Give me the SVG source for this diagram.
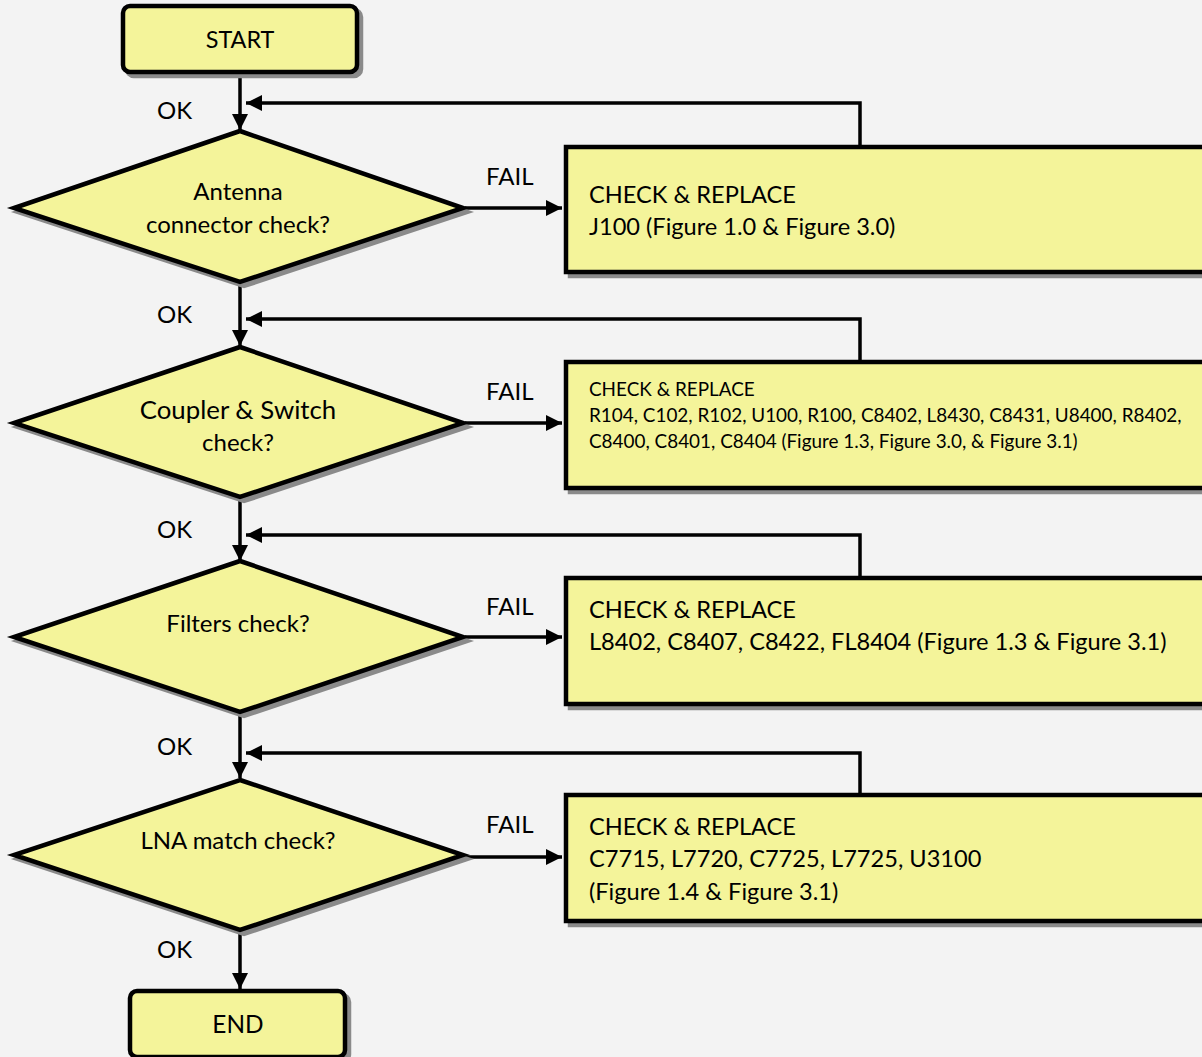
<svg xmlns="http://www.w3.org/2000/svg" width="1202" height="1057" viewBox="0 0 1202 1057">
<defs>
<style>
.bg{fill:#f3f3f3}
.node{fill:#f4f49a;stroke:#000;stroke-width:4.5;stroke-linejoin:miter}
.sh{fill:#8a8a8a;stroke:#8a8a8a;stroke-width:4.5}
.conn{fill:none;stroke:#000;stroke-width:3.5}
text{font-family:Lato,"Open Sans",sans-serif;fill:#000}
.t{font-size:24px}
.b{font-size:23.6px}
.c{text-anchor:middle}
.s{font-size:18.9px}
</style>
<marker id="ah" viewBox="0 0 10 10" refX="10" refY="5" markerWidth="16" markerHeight="16" markerUnits="userSpaceOnUse" orient="auto">
<path d="M0,0 L10,5 L0,10 z" fill="#000"/>
</marker>
</defs>
<rect class="bg" x="0" y="0" width="1202" height="1057"/>

<g id="connectors">
<line class="conn" x1="240" y1="72" x2="240" y2="130" marker-end="url(#ah)"/>
<line class="conn" x1="240" y1="284" x2="240" y2="346" marker-end="url(#ah)"/>
<line class="conn" x1="240" y1="499" x2="240" y2="561" marker-end="url(#ah)"/>
<line class="conn" x1="240" y1="714" x2="240" y2="778" marker-end="url(#ah)"/>
<line class="conn" x1="240" y1="932" x2="240" y2="989" marker-end="url(#ah)"/>
<line class="conn" x1="465" y1="208" x2="562" y2="208" marker-end="url(#ah)"/>
<line class="conn" x1="465" y1="423" x2="562" y2="423" marker-end="url(#ah)"/>
<line class="conn" x1="465" y1="637" x2="562" y2="637" marker-end="url(#ah)"/>
<line class="conn" x1="465" y1="857" x2="562" y2="857" marker-end="url(#ah)"/>
<polyline class="conn" points="860,147 860,103 246,103" marker-end="url(#ah)"/>
<polyline class="conn" points="860,362 860,319 246,319" marker-end="url(#ah)"/>
<polyline class="conn" points="860,578 860,535 246,535" marker-end="url(#ah)"/>
<polyline class="conn" points="860,795 860,753 246,753" marker-end="url(#ah)"/>
<text class="t" x="157" y="119">OK</text>
<text class="t" x="157" y="323">OK</text>
<text class="t" x="157" y="538">OK</text>
<text class="t" x="157" y="755">OK</text>
<text class="t" x="157" y="958">OK</text>
<text class="t" x="486" y="185">FAIL</text>
<text class="t" x="486" y="400">FAIL</text>
<text class="t" x="486" y="615">FAIL</text>
<text class="t" x="486" y="833">FAIL</text>
</g>

<g id="start">
<rect class="sh" x="127" y="10" width="234" height="66" rx="7"/>
<rect class="node" x="123" y="6" width="234" height="66" rx="7"/>
<text class="c" font-size="23.4" x="240" y="48">START</text>
</g>

<g id="d1">
<polygon class="sh" points="244,135 467,212 244,286 18,212"/>
<polygon class="node" points="240,131 463,208 240,282 14,208"/>
<text class="t c" x="238" y="200">Antenna</text>
<text class="t c" x="238" y="233">connector check?</text>
</g>

<g id="b1">
<rect class="sh" x="570" y="151" width="650" height="125"/>
<rect class="node" x="566" y="147" width="650" height="125"/>
<text class="b" x="589" y="203">CHECK &amp; REPLACE</text>
<text class="b" x="589" y="235">J100 (Figure 1.0 &amp; Figure 3.0)</text>
</g>

<g id="d2">
<polygon class="sh" points="244,351 467,427 244,501 18,427"/>
<polygon class="node" points="240,347 463,423 240,497 14,423"/>
<text class="c" x="238" y="419" font-size="25.8">Coupler &amp; Switch</text>
<text class="t c" x="238" y="451">check?</text>
</g>

<g id="b2">
<rect class="sh" x="570" y="366" width="650" height="126"/>
<rect class="node" x="566" y="362" width="650" height="126"/>
<text class="s" x="589" y="396">CHECK &amp; REPLACE</text>
<text class="s" x="589" y="422">R104, C102, R102, U100, R100, C8402, L8430, C8431, U8400, R8402,</text>
<text class="s" x="589" y="448">C8400, C8401, C8404 (Figure 1.3, Figure 3.0, &amp; Figure 3.1)</text>
</g>

<g id="d3">
<polygon class="sh" points="244,565 467,641 244,716 18,641"/>
<polygon class="node" points="240,561 463,637 240,712 14,637"/>
<text class="t c" x="238" y="632">Filters check?</text>
</g>

<g id="b3">
<rect class="sh" x="570" y="582" width="650" height="126"/>
<rect class="node" x="566" y="578" width="650" height="126"/>
<text class="b" x="589" y="618">CHECK &amp; REPLACE</text>
<text class="b" x="589" y="650">L8402, C8407, C8422, FL8404 (Figure 1.3 &amp; Figure 3.1)</text>
</g>

<g id="d4">
<polygon class="sh" points="244,784 467,859 244,934 18,859"/>
<polygon class="node" points="240,780 463,855 240,930 14,855"/>
<text class="t c" x="238" y="849">LNA match check?</text>
</g>

<g id="b4">
<rect class="sh" x="570" y="799" width="650" height="126"/>
<rect class="node" x="566" y="795" width="650" height="126"/>
<text class="b" x="589" y="835">CHECK &amp; REPLACE</text>
<text class="b" x="589" y="867">C7715, L7720, C7725, L7725, U3100</text>
<text class="b" x="589" y="900">(Figure 1.4 &amp; Figure 3.1)</text>
</g>

<g id="end">
<rect class="sh" x="134" y="995" width="215" height="66" rx="7"/>
<rect class="node" x="130" y="991" width="215" height="66" rx="7"/>
<text class="c" font-size="24.4" x="238" y="1033">END</text>
</g>
</svg>
